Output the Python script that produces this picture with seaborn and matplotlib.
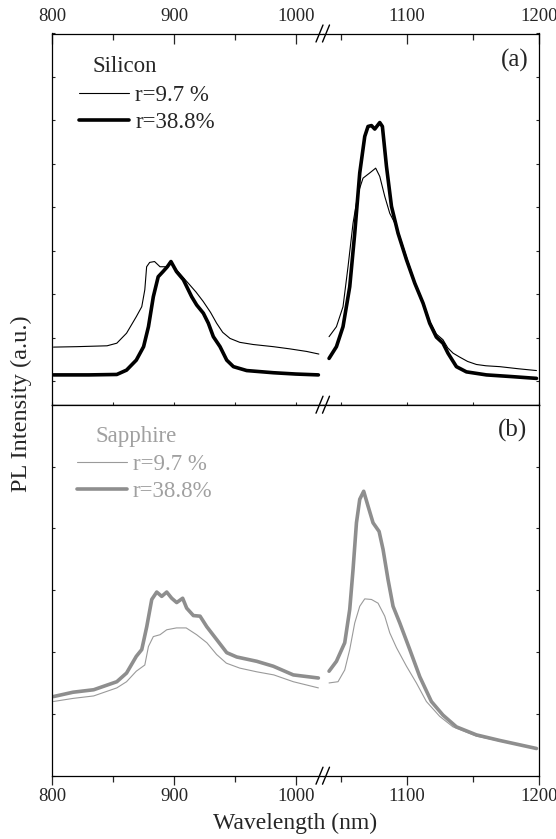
import numpy as np
import matplotlib
matplotlib.use('Agg')
import matplotlib.pyplot as plt
from matplotlib.lines import Line2D
import seaborn as sns

# PL spectra (arbitrary units)
# (a) silicon substrate
si_thin_wl = [801, 820, 845, 853, 861, 869, 873.5, 876, 877.5, 880, 884, 888.5, 894, 897, 902, 907,
              913, 918, 924, 930, 935, 940, 946, 954, 965, 981.6, 995, 1009, 1019,
              1040.8, 1046.4, 1051.4, 1055.2, 1059, 1062.8, 1066.6, 1071.7, 1076.2, 1079.3, 1083.1,
              1086.9, 1092, 1099.6, 1105.9, 1112.2, 1117.2, 1122.3, 1127.3, 1131, 1135, 1140, 1146,
              1152.7, 1160, 1170.4, 1185, 1198.3]
si_thin_pl = [0.78, 0.79, 0.81, 0.87, 1.10, 1.48, 1.71, 2.10, 2.63, 2.73, 2.75, 2.63, 2.63, 2.76, 2.56, 2.40,
              2.21, 2.05, 1.83, 1.58, 1.33, 1.12, 0.98, 0.89, 0.84, 0.79, 0.74, 0.68, 0.62,
              1.02, 1.25, 1.71, 2.63, 3.63, 4.32, 4.67, 4.79, 4.90, 4.71, 4.25,
              3.86, 3.56, 2.85, 2.28, 1.82, 1.38, 1.08, 0.95, 0.76, 0.64, 0.55, 0.45,
              0.38, 0.35, 0.33, 0.28, 0.24]
si_thick_wl = [801, 830, 853, 861, 869, 875, 879, 883, 887, 891, 894.5, 897.5, 902, 907.7, 914.5, 918.6,
               924.1, 928.2, 932.3, 937.8, 943.3, 948.8, 959.7, 981.6, 1000, 1018.6,
               1040.8, 1046.4, 1051.4, 1056.5, 1060.3, 1064.1, 1067.9, 1070.4, 1073, 1075.5, 1079.3,
               1081.3, 1084.4, 1088.2, 1093.2, 1099.6, 1105.9, 1112.2, 1117.2, 1122.3, 1127.3, 1131.1,
               1137.5, 1145.1, 1160.3, 1180, 1198.3]
si_thick_pl = [0.14, 0.14, 0.15, 0.25, 0.48, 0.79, 1.25, 1.94, 2.40, 2.52, 2.63, 2.75, 2.52, 2.33, 1.94, 1.75,
               1.56, 1.33, 1.02, 0.79, 0.48, 0.33, 0.24, 0.19, 0.16, 0.14,
               0.52, 0.79, 1.25, 2.17, 3.40, 4.79, 5.63, 5.86, 5.88, 5.80, 5.95,
               5.86, 4.94, 4.02, 3.40, 2.79, 2.25, 1.79, 1.33, 1.01, 0.87, 0.64,
               0.33, 0.21, 0.14, 0.10, 0.06]

# (b) sapphire substrate
sa_thin_wl = [801, 817, 834, 853, 861, 869, 876, 879, 883, 888.5, 894, 902, 910, 918.6, 927, 935, 943,
              954, 968, 982, 998, 1018.6,
              1040.8, 1047.6, 1052.7, 1056.5, 1060.3, 1064.1, 1067.9, 1073, 1078, 1083.1, 1086.9,
              1092, 1099.6, 1107.1, 1114.7, 1124.8, 1134.9, 1152.7, 1170.4, 1198.3]
sa_thin_pl = [1.20, 1.25, 1.29, 1.42, 1.52, 1.69, 1.79, 2.09, 2.25, 2.28, 2.36, 2.39, 2.39, 2.28, 2.15, 1.96, 1.82,
              1.74, 1.68, 1.63, 1.52, 1.42,
              1.50, 1.52, 1.71, 2.04, 2.47, 2.74, 2.86, 2.85, 2.79, 2.58, 2.31,
              2.07, 1.77, 1.50, 1.20, 0.96, 0.79, 0.64, 0.56, 0.44]
sa_thick_wl = [801, 817, 834, 853, 861, 869, 873.5, 877.6, 881.7, 885.8, 889.9, 894, 898.1, 902.2, 907.1,
               910.4, 915.9, 921.4, 926.9, 935.1, 943.3, 951.5, 968, 981.6, 998, 1018.6,
               1040.8, 1046.4, 1052.7, 1056.5, 1059, 1061.6, 1064.1, 1067.1, 1070.4, 1074.2, 1078.8,
               1081.8, 1085.6, 1089.4, 1094.5, 1102.1, 1109.7, 1118.5, 1127.3, 1137.5, 1152.7, 1170.4, 1198.3]
sa_thick_pl = [1.28, 1.35, 1.39, 1.52, 1.66, 1.93, 2.04, 2.41, 2.85, 2.97, 2.90, 2.97, 2.87, 2.80, 2.87,
               2.71, 2.59, 2.58, 2.41, 2.20, 1.99, 1.92, 1.85, 1.77, 1.63, 1.58,
               1.69, 1.85, 2.15, 2.69, 3.33, 4.09, 4.47, 4.60, 4.36, 4.09, 3.95,
               3.66, 3.17, 2.74, 2.47, 2.04, 1.60, 1.20, 0.98, 0.79, 0.66, 0.57, 0.44]

labels = ['r=9.7 %', 'r=38.8%']
x_major_left, x_minor_left = [800, 900, 1000], [850, 950]
x_major_right, x_minor_right = [1100, 1200], [1050, 1150]

sns.set_style('ticks')
plt.rcParams['font.family'] = ['Liberation Serif', 'DejaVu Serif']
plt.rcParams['axes.linewidth'] = 0.9

W, H = 556, 839
fig = plt.figure(figsize=(W / 100, H / 100), dpi=100)


def frac_box(x0, x1, y0, y1):
    # pixel box -> figure fraction [left, bottom, width, height]
    return [x0 / W, 1 - y1 / H, (x1 - x0) / W, (y1 - y0) / H]


ax_al = fig.add_axes(frac_box(52.3, 323, 33.5, 404.7))
ax_ar = fig.add_axes(frac_box(323, 538.7, 33.5, 404.7))
ax_bl = fig.add_axes(frac_box(52.3, 323, 404.7, 775.7))
ax_br = fig.add_axes(frac_box(323, 538.7, 404.7, 775.7))

BREAK = 1030


def draw_curve(ax_l, ax_r, wl, pl, color, lw, label):
    wl = np.asarray(wl)
    pl = np.asarray(pl)
    left = wl < BREAK
    sns.lineplot(x=wl[left], y=pl[left], ax=ax_l, color=color, linewidth=lw, label=label)
    sns.lineplot(x=wl[~left], y=pl[~left], ax=ax_r, color=color, linewidth=lw)


draw_curve(ax_al, ax_ar, si_thin_wl, si_thin_pl, 'black', 0.8, labels[0])
draw_curve(ax_al, ax_ar, si_thick_wl, si_thick_pl, 'black', 2.6, labels[1])
draw_curve(ax_bl, ax_br, sa_thin_wl, sa_thin_pl, '#9a9a9a', 0.8, labels[0])
draw_curve(ax_bl, ax_br, sa_thick_wl, sa_thick_pl, '#8e8e8e', 2.6, labels[1])


def style(ax, side, top_panel):
    if side == 'left':
        ax.set_xlim(800, 1022.4)
        major, minor = x_major_left, x_minor_left
    else:
        ax.set_xlim(1036.2, 1200)
        major, minor = x_major_right, x_minor_right
    ax.set_xticks(major)
    ax.set_xticks(minor, minor=True)
    if top_panel:
        ax.set_ylim(-0.546, 8.0)
        ax.set_yticks(range(0, 9))
        ax.tick_params(axis='x', which='both', bottom=False, top=True, labelbottom=False,
                       labeltop=True, direction='in', pad=6, labelsize=13.5, width=0.9)
        ax.tick_params(axis='x', which='major', length=7.2)
        ax.tick_params(axis='x', which='minor', length=4.3)
        sec = ax.secondary_xaxis('bottom')
        sec.set_xticks(major)
        sec.set_xticks(minor, minor=True)
        sec.tick_params(which='both', direction='in', length=2.2, labelbottom=False, width=0.8)
    else:
        ax.set_ylim(0, 6.0)
        ax.set_yticks(range(0, 7))
        ax.tick_params(axis='x', which='both', bottom=True, top=False, labelbottom=True,
                       direction='out', pad=2, labelsize=13.5, width=0.9)
        ax.tick_params(axis='x', which='major', length=6.5)
        ax.tick_params(axis='x', which='minor', length=4.3)
    ax.tick_params(axis='y', which='both', left=(side == 'left'), right=(side == 'right'),
                   labelleft=False, labelright=False, direction='in', length=2.5, width=0.8)
    ax.spines['right' if side == 'left' else 'left'].set_visible(False)
    for s in ax.spines.values():
        s.set_color('black')
    ax.set_xlabel('')
    ax.set_ylabel('')


style(ax_al, 'left', True)
style(ax_ar, 'right', True)
style(ax_bl, 'left', False)
style(ax_br, 'right', False)

# legends and panel texts
leg_a = ax_al.legend(loc='upper left', bbox_to_anchor=(0.0986, 0.862), frameon=False, fontsize=16.5,
                     borderpad=0, borderaxespad=0, handlelength=2.2, handletextpad=0.26,
                     labelspacing=0.25)
leg_b = ax_bl.legend(loc='upper left', bbox_to_anchor=(0.090, 0.866), frameon=False, fontsize=16.5,
                     borderpad=0, borderaxespad=0, handlelength=2.2, handletextpad=0.26,
                     labelspacing=0.25, labelcolor='#a0a0a0')
for lax in (ax_ar, ax_br):
    if lax.get_legend() is not None:
        lax.get_legend().remove()

ax_al.text(0.147, 0.896, 'Silicon', transform=ax_al.transAxes, fontsize=16.5, va='baseline')
ax_bl.text(0.158, 0.900, 'Sapphire', transform=ax_bl.transAxes, fontsize=16.5, va='baseline',
           color='#a0a0a0')
ax_ar.text(0.955, 0.912, '(a)', transform=ax_ar.transAxes, fontsize=18, va='baseline', ha='right')
ax_br.text(0.946, 0.913, '(b)', transform=ax_br.transAxes, fontsize=18, va='baseline', ha='right')

# axis break marks
for ypix in (33.5, 404.7, 775.7):
    for xc in (319.5, 326.0):
        fig.add_artist(Line2D([(xc - 3.5) / W, (xc + 3.5) / W],
                              [1 - (ypix + 8.5) / H, 1 - (ypix - 8.5) / H],
                              transform=fig.transFigure, color='black', lw=1.0))

fig.text(295 / W, 1 - 823 / H, 'Wavelength (nm)', ha='center', va='center', fontsize=17)
fig.text(21 / W, 1 - 404 / H, 'PL Intensity (a.u.)', ha='center', va='center', rotation=90,
         fontsize=17.5)

fig.savefig('out.png', dpi=100)
